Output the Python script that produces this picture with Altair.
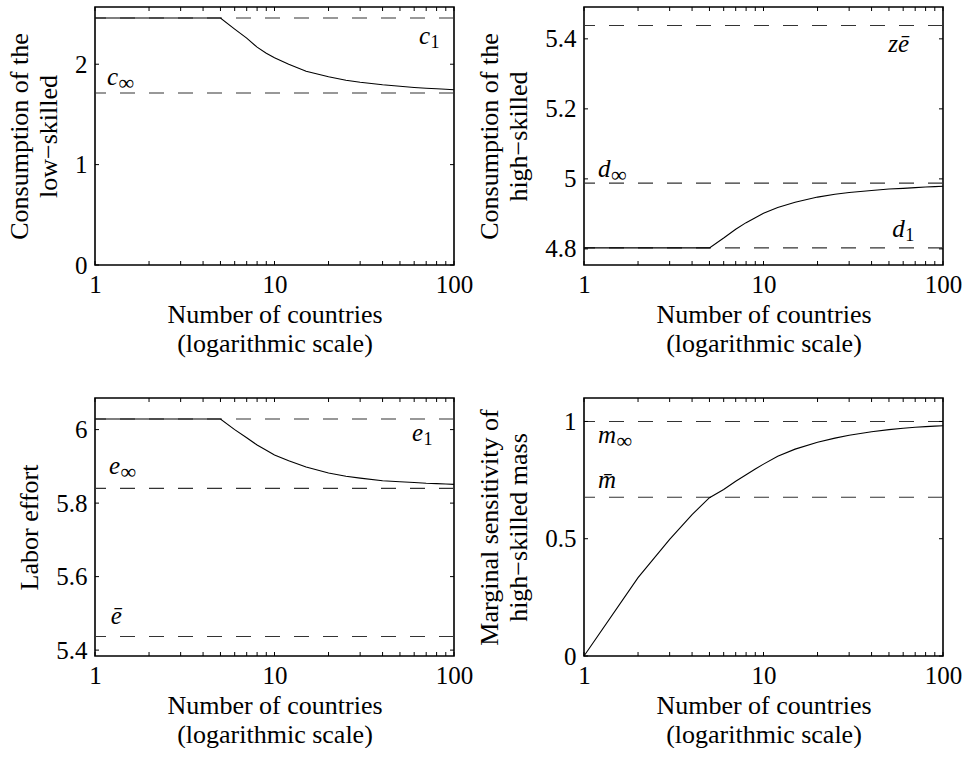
import altair as alt
import pandas as pd

# ---------------- data ----------------
n_countries = [1, 2, 3, 4, 5, 6, 7, 8, 9, 10, 12, 15, 20, 25, 30, 40, 50, 60, 70, 80, 90, 100]

cons_low = [2.46, 2.46, 2.46, 2.46, 2.46, 2.35, 2.26, 2.17, 2.11, 2.065, 2.00, 1.93,
            1.875, 1.84, 1.82, 1.795, 1.78, 1.768, 1.76, 1.755, 1.75, 1.745]
cons_high = [4.803, 4.803, 4.803, 4.803, 4.803, 4.831, 4.856, 4.875, 4.889, 4.902, 4.918,
             4.933, 4.948, 4.956, 4.961, 4.967, 4.971, 4.973, 4.975, 4.977, 4.978, 4.979]
labor_effort = [6.029, 6.029, 6.029, 6.029, 6.029, 6.000, 5.978, 5.958, 5.944, 5.931, 5.915,
                5.898, 5.882, 5.873, 5.868, 5.861, 5.858, 5.856, 5.854, 5.853, 5.852, 5.851]
marg_sens = [0.0, 0.334, 0.497, 0.603, 0.675, 0.71, 0.745, 0.773, 0.797, 0.818, 0.852,
             0.882, 0.911, 0.929, 0.941, 0.956, 0.965, 0.971, 0.975, 0.978, 0.980, 0.982]

# reference (dashed) levels
lines_low = [2.46, 1.713]
lines_high = [5.438, 4.988, 4.803]
lines_effort = [6.029, 5.840, 5.437]
lines_sens = [1.0, 0.677]

# y tick labels
yticks_low = [0, 1, 2]
yticks_high = [4.8, 5, 5.2, 5.4]
yticks_effort = [5.4, 5.6, 5.8, 6]
yticks_sens = [0, 0.5, 1]

# x tick marks (log axis) and labels
xtick_marks = [1, 2, 3, 4, 5, 6, 7, 8, 9, 10, 20, 30, 40, 50, 60, 70, 80, 90, 100]
xtick_labels = [1, 10, 100]

# annotations: letter, subscript, n, value
ann_low = [("c", "1", 63.8, 2.20), ("c", "\u221e", 1.166, 1.79)]
ann_high = [("z\u0113", "", 49.6, 5.362), ("d", "\u221e", 1.197, 5.005), ("d", "1", 52.2, 4.833)]
ann_effort = [("e", "1", 58.3, 5.968), ("e", "\u221e", 1.197, 5.878), ("\u0113", "", 1.223, 5.470)]
ann_sens = [("m", "\u221e", 1.197, 0.908), ("m\u0304", "", 1.197, 0.717)]

# ---------------- styling ----------------
FONT = "Liberation Serif"
FS_LAB = 25
FS_TIT = 26
W, H = 359, 258
TL = 4
LETTER_W = {"c": 11.1, "d": 12.5, "e": 11.1, "m": 18.0}


def panel(vals, ydom, yticks, ytitle, hl, anns):
    xs = alt.Scale(type="log", domain=[1, 100], nice=False)
    ys = alt.Scale(domain=ydom, nice=False, zero=False)
    common = dict(labelFont=FONT, labelFontSize=FS_LAB, labelColor="black",
                  titleFont=FONT, titleFontSize=FS_TIT, titleFontWeight="normal",
                  titleColor="black", grid=False, domain=False, ticks=False, tickSize=0)
    x_axis = alt.Axis(values=xtick_labels, format="~g",
                      title=["Number of countries", "(logarithmic scale)"],
                      labelPadding=7, titlePadding=4, titleLineHeight=29,
                      labelFlush=False, **common)
    y_axis = alt.Axis(values=yticks, format="~g", title=ytitle,
                      labelPadding=8, titlePadding=13, titleLineHeight=29, **common)

    def X(field="n:Q"):
        return alt.X(field, scale=xs, axis=x_axis)

    def Y(field="v:Q"):
        return alt.Y(field, scale=ys, axis=y_axis)

    df = pd.DataFrame({"n": n_countries, "v": vals})
    curve = alt.Chart(df).mark_line(color="black", strokeWidth=1.1).encode(x=X(), y=Y())
    dashed = alt.Chart(pd.DataFrame({"v": hl})).mark_rule(
        color="#333333", strokeWidth=1.1, strokeDash=[15, 14]
    ).encode(y=Y())

    xt = pd.DataFrame({"n": xtick_marks})
    yt = pd.DataFrame({"v": yticks})
    tick_b = alt.Chart(xt).mark_rule(color="black", strokeWidth=1).encode(
        x=X(), y=alt.value(H), y2=alt.value(H - TL))
    tick_t = alt.Chart(xt).mark_rule(color="black", strokeWidth=1).encode(
        x=X(), y=alt.value(0), y2=alt.value(TL))
    tick_l = alt.Chart(yt).mark_rule(color="black", strokeWidth=1).encode(
        y=Y(), x=alt.value(0), x2=alt.value(TL))
    tick_r = alt.Chart(yt).mark_rule(color="black", strokeWidth=1).encode(
        y=Y(), x=alt.value(W - TL), x2=alt.value(W))

    layers = [dashed, curve, tick_b, tick_t, tick_l, tick_r]
    for letter, sub, nx, vy in anns:
        d = pd.DataFrame({"n": [nx], "v": [vy], "t": [letter], "s": [sub]})
        layers.append(alt.Chart(d).mark_text(
            font=FONT, fontSize=FS_LAB, fontStyle="italic", align="left",
            baseline="alphabetic", color="black"
        ).encode(x=X(), y=Y(), text="t:N"))
        if sub:
            inf = sub == "\u221e"
            layers.append(alt.Chart(d).mark_text(
                font=FONT, fontSize=22 if inf else 18, align="left",
                baseline="alphabetic", color="black",
                dx=LETTER_W[letter] + 0.5, dy=5 if inf else 4
            ).encode(x=X(), y=Y(), text="s:N"))
    return alt.layer(*layers).properties(width=W, height=H)


p1 = panel(cons_low, [0, 2.57], yticks_low,
           ["Consumption of the", "low\u2212skilled"], lines_low, ann_low)
p2 = panel(cons_high, [4.754, 5.491], yticks_high,
           ["Consumption of the", "high\u2212skilled"], lines_high, ann_high)
p3 = panel(labor_effort, [5.384, 6.086], yticks_effort,
           "Labor effort", lines_effort, ann_effort)
p4 = panel(marg_sens, [0, 1.1], yticks_sens,
           ["Marginal sensitivity of", "high\u2212skilled mass"], lines_sens, ann_sens)

chart = alt.concat(p1, p2, p3, p4, columns=2, spacing={"row": 39, "column": 1}, align="each").properties(
    padding={"left": 5, "top": 5, "right": 0, "bottom": 0},
    background="white",
).configure(font=FONT).configure_view(stroke="black", strokeWidth=1.6)

chart.save("out.html", embed_options={"renderer": "svg", "actions": False})
